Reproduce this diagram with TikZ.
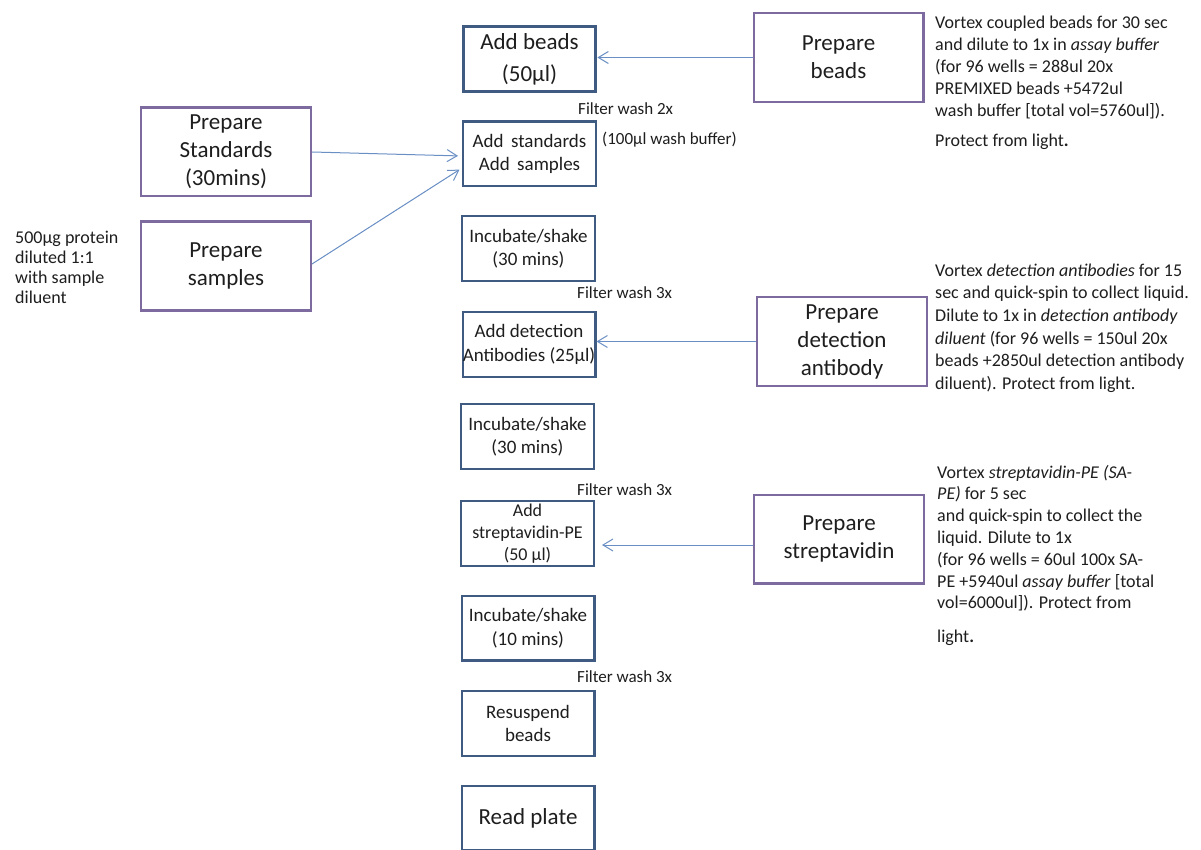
\documentclass[tikz,border=0pt]{standalone}
\usepackage{fontspec}
\setmainfont{Carlito}
\usetikzlibrary{arrows.meta,calc}
\definecolor{stepline}{HTML}{3F5B82}
\definecolor{prepline}{HTML}{7D6A9E}
\definecolor{linkblue}{HTML}{6A8FC4}
\definecolor{ink}{HTML}{1E1E1E}
\begin{document}
\begin{tikzpicture}[x=1pt,y=-1pt,
  stepbox/.style={draw=stepline, line width=2.4pt, fill=white,
    minimum width=132.6pt, minimum height=64.6pt, align=center, inner sep=0pt,
    text=ink, font=\fontsize{19}{23.5}\selectfont},
  prepbox/.style={draw=prepline, line width=2.4pt, fill=white,
    minimum width=169.6pt, minimum height=88.6pt, align=center, inner sep=0pt,
    text=ink, font=\fontsize{23}{28}\selectfont},
  link/.style={draw=linkblue, line width=1pt,
    -{Straight Barb[length=10pt,width=12pt,line width=1pt]}},
  note/.style={align=left, anchor=north west, inner sep=0pt, text=ink},
  washlbl/.style={anchor=west, inner sep=0pt, text=ink,
    font=\fontsize{17}{20}\selectfont}]
\useasboundingbox[fill=white] (0,0) rectangle (1201,850);

% main assay column
\node[stepbox, line width=3.2pt, font=\fontsize{23}{32}\selectfont] (beads) at (529.5,59) {Add beads\\(50µl)};
\node[stepbox] (stds)  at (529.5,154) {Add\, standards\\Add\, samples};
\node[stepbox] (inc1)  at (528.5,248.5) {Incubate/shake\\(30 mins)};
\node[stepbox] (det)   at (529,344.5) {Add detection\\Antibodies (25µl)};
\node[stepbox] (inc2)  at (527.5,436.5) {Incubate/shake\\(30 mins)};
\node[stepbox, font=\fontsize{18}{22}\selectfont] (sa) at (527.5,533.5) {Add\\streptavidin-PE\\(50 µl)};
\node[stepbox] (inc3)  at (528,628) {Incubate/shake\\(10 mins)};
\node[stepbox] (resus) at (528,723.5) {Resuspend\\beads};
\node[stepbox, font=\fontsize{23}{28}\selectfont] (read) at (528,818) {Read plate};

% wash steps between the boxes
\node[washlbl] (fw1) at (578,109) {Filter wash 2x};
\node[washlbl] (buf) at (602,140) {(100µl wash buffer)};
\node[washlbl] (fw2) at (577,293) {Filter wash 3x};
\node[washlbl] (fw3) at (577,490) {Filter wash 3x};
\node[washlbl] (fw4) at (577,677) {Filter wash 3x};

% preparation steps
\node[prepbox] (pbeads) at (838.5,57.5) {Prepare\\beads};
\node[prepbox] (pstd)   at (226,152) {Prepare\\Standards\\(30mins)};
\node[prepbox] (psam)   at (226,266) {Prepare\\samples};
\node[prepbox] (pdet)   at (842,341.5) {Prepare\\detection\\antibody};
\node[prepbox] (psa)    at (839,539) {Prepare\\streptavidin};

% connectors
\draw[link] (pbeads.west) -- (pbeads.west -| beads.east);
\draw[link, shorten >=4pt] (pstd.east) -- ($(stds.west)+(0,2)$);
\draw[link, shorten >=3pt] ($(psam.east)+(0,-2)$) -- ($(stds.west)+(0,14)$);
\draw[link] (pdet.west) -- (pdet.west -| det.east);
\coordinate (saIn) at ($(psa.west)+(0,6)$);
\draw[link, shorten >=7pt] (saIn) -- (saIn -| sa.east);

% notes
\node[note, font=\fontsize{18}{20}\selectfont] (nsam) at (15,229)
  {\strut 500µg protein\\diluted 1:1\\with sample\\diluent};
\node[note, font=\fontsize{18}{22}\selectfont] (nbeads) at (935,12.6)
  {\strut Vortex coupled beads for 30 sec\\
   and dilute to 1x in \textit{assay buffer}\\
   (for 96 wells = 288ul 20x\\
   PREMIXED beads +5472ul\\
   wash buffer [total vol=5760ul]).\\[8pt]
   Protect from light\textbf{.}};
\node[note, font=\fontsize{18}{22.7}\selectfont] (ndet) at (935,260.1)
  {\strut Vortex \textit{detection antibodies} for 15\\
   sec and quick-spin to collect liquid.\\
   Dilute to 1x in \textit{detection antibody}\\
   \textit{diluent} (for 96 wells = 150ul 20x\\
   beads +2850ul detection antibody\\
   diluent). Protect from light.};
\node[note, font=\fontsize{18}{21.8}\selectfont] (nsa) at (937,462.6)
  {\strut Vortex \textit{streptavidin-PE (SA-}\\
   \textit{PE)} for 5 sec\\
   and quick-spin to collect the\\
   liquid. Dilute to 1x\\
   (for 96 wells = 60ul 100x SA-\\
   PE +5940ul \textit{assay buffer} [total\\
   vol=6000ul]). Protect from\\[12pt]
   light\textbf{.}};
\end{tikzpicture}
\end{document}
